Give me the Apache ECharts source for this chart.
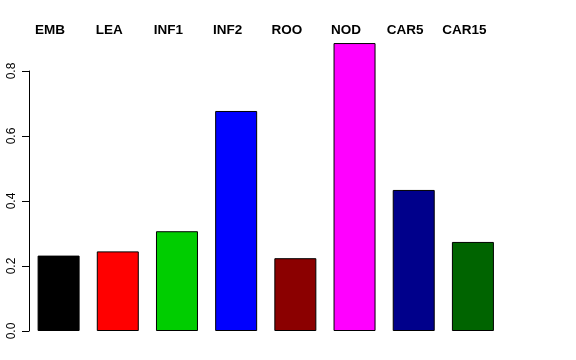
<!DOCTYPE html>
<html>
<head>
<meta charset="utf-8">
<script src="https://cdn.jsdelivr.net/npm/echarts@6/dist/echarts.min.js"></script>
<style>
html,body{margin:0;padding:0;background:#fff;}
#chart{width:576px;height:360px;}
</style>
</head>
<body>
<div id="chart"></div>
<script>
const categories = ["EMB", "LEA", "INF1", "INF2", "ROO", "NOD", "CAR5", "CAR15"];
const values = [0.232, 0.245, 0.307, 0.677, 0.224, 0.886, 0.434, 0.274];
const barColors = ["#000000", "#FF0000", "#00CD00", "#0000FF", "#8B0000", "#FF00FF", "#00008B", "#006400"];
const yTicks = [0, 0.2, 0.4, 0.6, 0.8];

const chart = echarts.init(document.getElementById('chart'), null, {renderer: 'canvas'});
chart.setOption({
  animation: false,
  backgroundColor: '#ffffff',
  grid: {left: 29, right: 73.5, top: 71, bottom: 29, containLabel: false},
  xAxis: {
    type: 'category',
    position: 'top',
    data: categories,
    axisLine: {show: false},
    axisTick: {show: false},
    axisLabel: {
      interval: 0,
      hideOverlap: false,
      margin: 34,
      formatter: v => '{a|' + v + '}',
      rich: {a: {padding: [0, 17, 0, 0], fontFamily: 'Liberation Sans', fontWeight: 'bold', fontSize: 13.5, color: '#000'}}
    }
  },
  yAxis: {
    type: 'value',
    min: 0,
    max: 0.8,
    interval: 0.2,
    splitLine: {show: false},
    axisLine: {show: true, lineStyle: {color: '#000', width: 1}},
    axisTick: {show: true, length: 7, lineStyle: {color: '#000'}},
    axisLabel: {
      rotate: 90,
      margin: 11,
      fontFamily: 'Liberation Sans',
      fontSize: 12,
      color: '#000',
      formatter: v => v.toFixed(1)
    }
  },
  series: [{
    type: 'bar',
    clip: false,
    barWidth: 42,
    data: values.map((v, i) => ({value: v, itemStyle: {color: barColors[i]}})),
    itemStyle: {borderColor: '#000', borderWidth: 1}
  }]
});
</script>
</body>
</html>
